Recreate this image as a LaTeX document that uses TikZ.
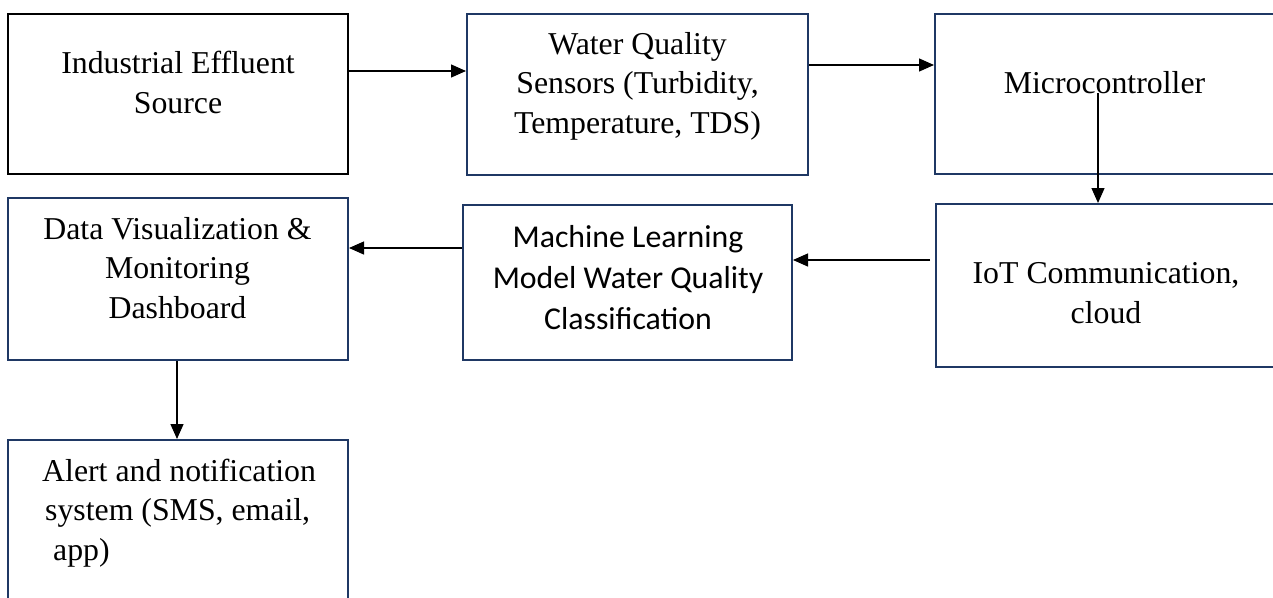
\documentclass[tikz,border=0pt]{standalone}
\usepackage{fontspec}
\setmainfont{Liberation Serif}
\newfontfamily\calibri{Carlito}
\usetikzlibrary{arrows.meta}
\definecolor{boxnavy}{RGB}{31,56,100}
\begin{document}
\begin{tikzpicture}[x=1pt,y=-1pt,
  box/.style={draw=boxnavy, line width=2pt, inner sep=0pt, fill=none},
  srcbox/.style={draw=black, line width=2.8pt, inner sep=0pt},
  txt/.style={font=\fontsize{31.8}{39.5}\selectfont, align=center, anchor=base, inner sep=0pt},
  mltxt/.style={font=\calibri\fontsize{31.8}{41}\selectfont, align=center, anchor=base, inner sep=0pt},
  arr/.style={-{Triangle[length=15pt,width=13pt]}, line width=1.3pt, draw=black}]
\useasboundingbox (0,0) rectangle (1273,597);
\clip (0,0) rectangle (1273,597);

% process blocks
\node[srcbox, minimum width=340pt, minimum height=160pt] (src)   at (178,94)     {};
\node[box, minimum width=341pt, minimum height=161pt]    (sens)  at (637.5,94.5) {};
\node[box, minimum width=355pt, minimum height=160pt]    (micro) at (1112.5,94)  {};
\node[box, minimum width=354pt, minimum height=163pt]    (iot)   at (1113,285.5) {};
\node[box, minimum width=329pt, minimum height=155pt]    (ml)    at (627.5,282.5){};
\node[box, minimum width=340pt, minimum height=162pt]    (dv)    at (178,279)    {};
\node[box, minimum width=340pt, minimum height=180pt]    (alert) at (178,530)    {};

% block captions (placed by the baseline of their last line)
\node[txt] (srcT)   at (178,113)   {Industrial Effluent\\Source};
\node[txt] (sensT)  at (637.5,133) {Water Quality\\Sensors (Turbidity,\\Temperature, TDS)};
\node[txt] (microT) at (1104.5,93) {Microcontroller};
\node[txt] (iotT)   at (1106,323)  {IoT Communication,\\cloud};
\node[mltxt] (mlT)  at (628,329)   {Machine Learning\\Model Water Quality\\Classification};
\node[txt] (dvT)    at (177.5,318) {Data Visualization \&\\Monitoring\\Dashboard};
\node[txt, align=left, anchor=base west] (alertT) at (42,560)
  {Alert and notification\\\hspace*{3pt}system (SMS, email,\\\hspace*{11pt}app)};

% data flow
\draw[arr] (src.east |- 0,71) -- (sens.west |- 0,71);
\draw[arr] (sens.east |- 0,65) -- (micro.west |- 0,65);
\coordinate (mcfrom) at (1098,93);
\draw[arr] (mcfrom) -- (mcfrom |- iot.north);
\coordinate (iotfrom) at (930,260);
\draw[arr] (iotfrom) -- (iotfrom -| ml.east);
\draw[arr] (ml.west |- 0,248) -- (dv.east |- 0,248);
\draw[arr] (dv.south -| 177,0) -- (alert.north -| 177,0);
\end{tikzpicture}
\end{document}
